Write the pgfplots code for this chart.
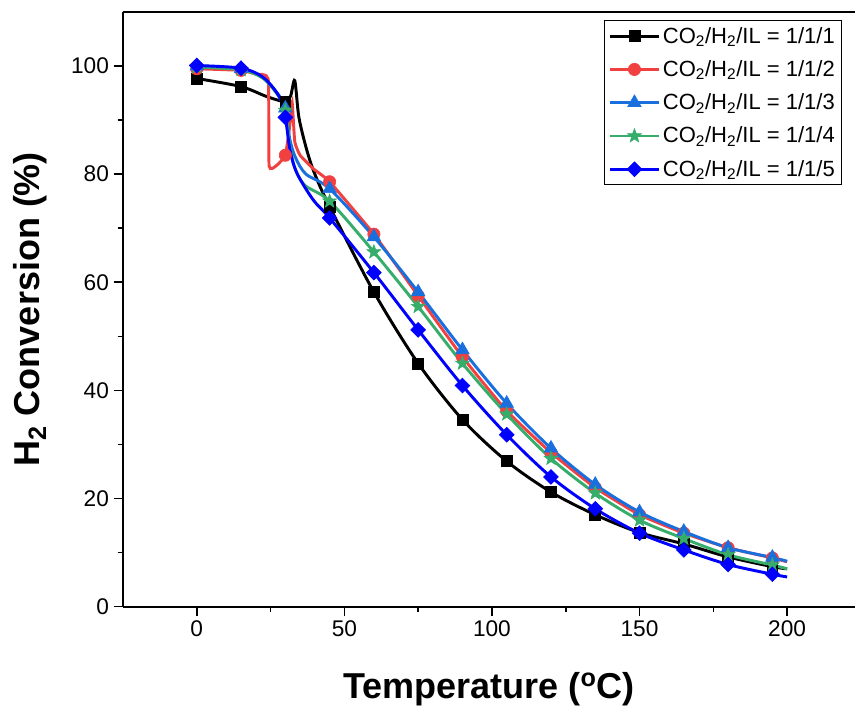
\documentclass[border=0pt]{standalone}
\usepackage{fontspec}
\setmainfont{Liberation Sans}
\usepackage{pgfplots}
\pgfplotsset{compat=1.18}

\definecolor{ser1}{HTML}{000000}
\definecolor{ser2}{HTML}{F14040}
\definecolor{ser3}{HTML}{1A6FDF}
\definecolor{ser4}{HTML}{37AD6B}
\definecolor{ser5}{HTML}{0000FF}

% filled five-pointed star
\pgfdeclareplotmark{fstar}{%
  \pgfpathmoveto{\pgfpointpolar{90}{\pgfplotmarksize}}%
  \pgfpathlineto{\pgfpointpolar{126}{0.42\pgfplotmarksize}}%
  \pgfpathlineto{\pgfpointpolar{162}{\pgfplotmarksize}}%
  \pgfpathlineto{\pgfpointpolar{198}{0.42\pgfplotmarksize}}%
  \pgfpathlineto{\pgfpointpolar{234}{\pgfplotmarksize}}%
  \pgfpathlineto{\pgfpointpolar{270}{0.42\pgfplotmarksize}}%
  \pgfpathlineto{\pgfpointpolar{306}{\pgfplotmarksize}}%
  \pgfpathlineto{\pgfpointpolar{342}{0.42\pgfplotmarksize}}%
  \pgfpathlineto{\pgfpointpolar{18}{\pgfplotmarksize}}%
  \pgfpathlineto{\pgfpointpolar{54}{0.42\pgfplotmarksize}}%
  \pgfpathclose
  \pgfusepathqfillstroke}

\begin{document}
\begin{tikzpicture}
\begin{axis}[
  scale only axis,
  width=549pt, height=446pt,
  xmin=-25, xmax=223, ymin=0, ymax=110,
  axis x line*=box, axis y line*=left,
  xtick pos=bottom, ytick pos=left,
  xtick={0,50,100,150,200}, ytick={0,20,40,60,80,100},
  minor x tick num=1, minor y tick num=1,
  tick align=outside,
  major tick length=7pt, minor tick length=4pt,
  every tick/.style={black, line width=1.2pt},
  axis line style={line width=1.5pt},
  /pgf/number format/assume math mode=true,
  tick label style={font=\fontsize{17}{20}\selectfont},
  xlabel={\textbf{Temperature (\textsuperscript{o}C)}},
  ylabel={\textbf{H\textsubscript{2} Conversion (\%)}},
  label style={font=\fontsize{27}{32}\selectfont},
  x label style={yshift=-20pt},
  y label style={yshift=11pt},
  legend style={at={(1,1)}, anchor=north east, xshift=-9.75pt, yshift=-6pt,
    draw=black, line width=0.8pt, font=\fontsize{16.5}{19}\selectfont,
    row sep=7.5pt, inner sep=3pt},
  legend cell align=left,
  legend image code/.code={%
    \draw[line width=2.2pt, mark indices={2}] plot coordinates {(0cm,0cm) (0.64cm,0cm) (1.28cm,0cm)};},
  every axis plot/.append style={line width=2.2pt, smooth, tension=0.5},
]
% CO2/H2/IL = 1/1/1
\addplot[color=ser1, mark=square*, mark size=4.1pt,
  mark options={solid, line width=0.5pt},
  mark indices={1,2,4,10,11,12,13,14,15,16,17,18,19,20}]
coordinates {
 (0,97.7) (15,96.2) (23.5,94.4) (30,93.4) (31.8,94.5) (33.2,97.3) (34.6,90.5)
 (37.3,84.4) (40,80) (45,74.0) (60,58.2) (75,45.0) (90,34.6) (105,26.9)
 (120,21.2) (135,17.0) (150,13.7) (165,11.6) (180,9.2) (195,7.4) (200,7.0)
};
\addlegendentry{CO\textsubscript{2}/H\textsubscript{2}/IL = 1/1/1}
% CO2/H2/IL = 1/1/2
\addplot[color=ser2, mark=*, mark size=4.6pt, tension=0.25,
  mark options={solid, line width=0.5pt},
  mark indices={1,2,7,13,14,15,16,17,18,19,20,21,22,23}]
coordinates {
 (0,99.5) (15,99.2) (20,98.5) (24.2,97.6) (24.5,81.5) (27,81.6) (30,83.5)
 (31.5,89) (32.3,93.3) (33.2,86) (35,83.5) (39.5,81) (45,78.6) (60,68.9)
 (75,57.5) (90,46.2) (105,36.2) (120,28.5) (135,22.0) (150,17.0) (165,13.6)
 (180,10.9) (195,9.0) (200,8.3)
};
\addlegendentry{CO\textsubscript{2}/H\textsubscript{2}/IL = 1/1/2}
% CO2/H2/IL = 1/1/3
\addplot[color=ser3, mark=triangle*, mark size=5.8pt,
  mark options={solid, line width=0.5pt},
  mark indices={1,2,5,9,10,11,12,13,14,15,16,17,18,19}]
coordinates {
 (0,100) (15,99.5) (22.5,97.8) (27.5,94.8) (30,92.2) (31.5,86.5) (33.5,83)
 (37,80) (45,77.3) (60,68.4) (75,58.2) (90,47.5) (105,37.6) (120,29.3)
 (135,22.6) (150,17.5) (165,13.9) (180,10.9) (195,9.1) (200,8.4)
};
\addlegendentry{CO\textsubscript{2}/H\textsubscript{2}/IL = 1/1/3}
% CO2/H2/IL = 1/1/4
\addplot[color=ser4, mark=fstar, mark size=5.5pt,
  mark options={solid, line width=0.4pt},
  mark indices={1,2,5,9,10,11,12,13,14,15,16,17,18,19}]
coordinates {
 (0,99.8) (15,99.3) (22.5,97.7) (27.5,94.6) (30,91.8) (31.3,86) (33,81.5)
 (36.5,78) (45,75.0) (60,65.6) (75,55.5) (90,45.0) (105,35.6) (120,27.4)
 (135,21.0) (150,16.0) (165,12.6) (180,9.6) (195,7.7) (200,7.0)
};
\addlegendentry{CO\textsubscript{2}/H\textsubscript{2}/IL = 1/1/4}
% CO2/H2/IL = 1/1/5
\addplot[color=ser5, mark=square*, mark size=3.9pt,
  mark options={solid, line width=0.5pt, rotate=45},
  mark indices={1,2,5,9,10,11,12,13,14,15,16,17,18,19}]
coordinates {
 (0,100.1) (15,99.6) (22.5,97.9) (28,94.3) (30,90.5) (31.6,84.4) (34,80.1)
 (39.5,75.2) (45,71.9) (60,61.8) (75,51.2) (90,40.9) (105,31.8) (120,24.0)
 (135,18.1) (150,13.6) (165,10.5) (180,7.8) (195,6.0) (200,5.5)
};
\addlegendentry{CO\textsubscript{2}/H\textsubscript{2}/IL = 1/1/5}
\end{axis}
\pgfresetboundingbox
\path[use as bounding box] ([shift={(-92.25pt,-79.7pt)}]current axis.south west)
  rectangle ([shift={(0.75pt,9pt)}]current axis.north east);
\end{tikzpicture}
\end{document}
